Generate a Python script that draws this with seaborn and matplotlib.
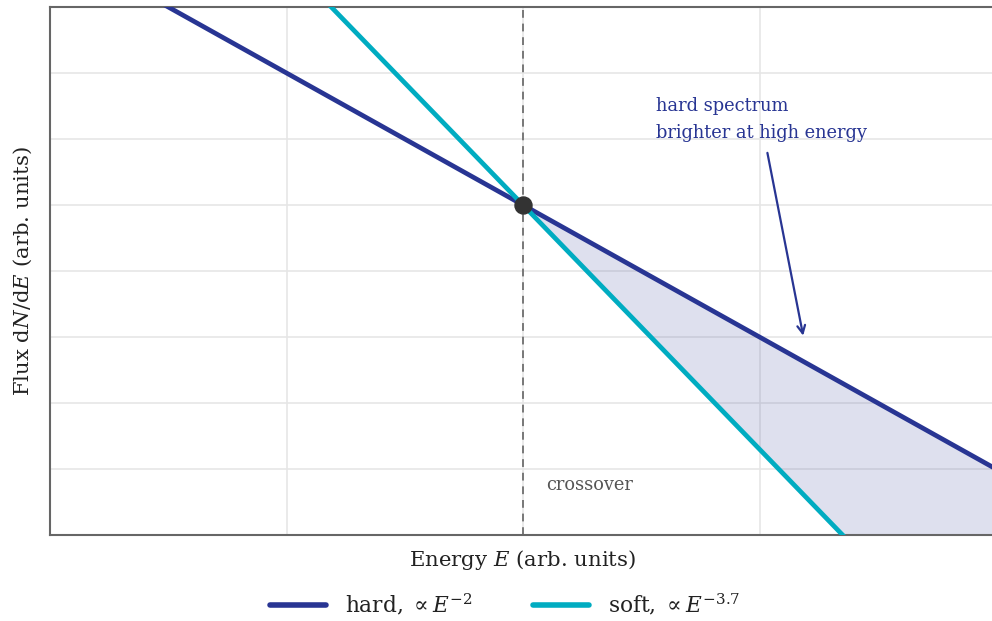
import numpy as np
import pandas as pd
import matplotlib
matplotlib.use("Agg")
import matplotlib.pyplot as plt
import seaborn as sns

# ---- data ----
energy_range = [1e-2, 1e2]
flux_range = [1e-5, 1e3]
crossover_E = 1.0
crossover_F = 1.0
index_hard = 2.0
index_soft = 3.7
series_labels = [r"hard, $\propto E^{-2}$", r"soft, $\propto E^{-3.7}$"]

HARD = "#283593"
SOFT = "#00acc1"

sns.set_theme(style="white")
plt.rcParams["font.family"] = ["DejaVu Serif"]
plt.rcParams["mathtext.fontset"] = "dejavuserif"

E = np.logspace(np.log10(energy_range[0]), np.log10(energy_range[1]), 400)
hard = crossover_F * (E / crossover_E) ** -index_hard
soft = crossover_F * (E / crossover_E) ** -index_soft
df = pd.DataFrame({
    "E": np.concatenate([E, E]),
    "flux": np.concatenate([hard, soft]),
    "series": np.repeat(series_labels, len(E)),
})

fig = plt.figure(figsize=(9.92, 6.21), dpi=100)
ax = fig.add_axes([50 / 992, (621 - 535) / 621, 946 / 992, (535 - 7) / 621])

ax.set_xscale("log")
ax.set_yscale("log")

sns.lineplot(data=df, x="E", y="flux", hue="series",
             palette=[HARD, SOFT], hue_order=series_labels,
             linewidth=3.4, ax=ax, legend=True, zorder=3)

mask = E >= crossover_E
ax.fill_between(E[mask], soft[mask], hard[mask], color=HARD, alpha=0.15,
                linewidth=0, zorder=1)

ax.axvline(crossover_E, color="#777777", linestyle=(0, (4, 3)), linewidth=1.4, zorder=2)
ax.scatter([crossover_E], [crossover_F], s=150, color="#333333", zorder=5)

ax.text(1.25, 10 ** -4.24, "crossover", color="#555555", fontsize=12.8,
        ha="left", va="center")

ax.annotate("", xy=(15.3, 10 ** -1.98), xytext=(10.8, 10 ** 0.79),
            arrowprops=dict(arrowstyle="->", color=HARD, lw=1.6,
                            shrinkA=0, shrinkB=0, mutation_scale=14))
ax.text(3.65, 10 ** 1.64, "hard spectrum\nbrighter at high energy",
        color=HARD, fontsize=12.9, ha="left", va="top", linespacing=1.68)

ax.set_xlim(*energy_range)
ax.set_ylim(*flux_range)
ax.set_xticks(np.logspace(-2, 2, 5))
ax.set_yticks(np.logspace(-5, 3, 9))
ax.set_xticks([], minor=True)
ax.set_yticks([], minor=True)
ax.set_xticklabels([])
ax.set_yticklabels([])
ax.tick_params(length=0)
ax.grid(True, color="#e6e6e6", linewidth=1.2)
for s in ax.spines.values():
    s.set_color("#666666")
    s.set_linewidth(1.5)

ax.set_xlabel(r"Energy $E$ (arb. units)", fontsize=15.3, labelpad=6, color="#222222")
ax.set_ylabel(r"Flux d$N$/d$E$ (arb. units)", fontsize=15.3, labelpad=8, color="#222222")

handles, labels = ax.get_legend_handles_labels()
ax.get_legend().remove()
leg = fig.legend(handles, labels, loc="center", bbox_to_anchor=(505 / 992, 1 - 605 / 621),
                 ncol=2, frameon=False, fontsize=15.6, handlelength=2.6,
                 columnspacing=2.8, handletextpad=0.85)
for line in leg.get_lines():
    line.set_linewidth(4)
for t in leg.get_texts():
    t.set_color("#222222")

fig.savefig("out.png", dpi=100)
